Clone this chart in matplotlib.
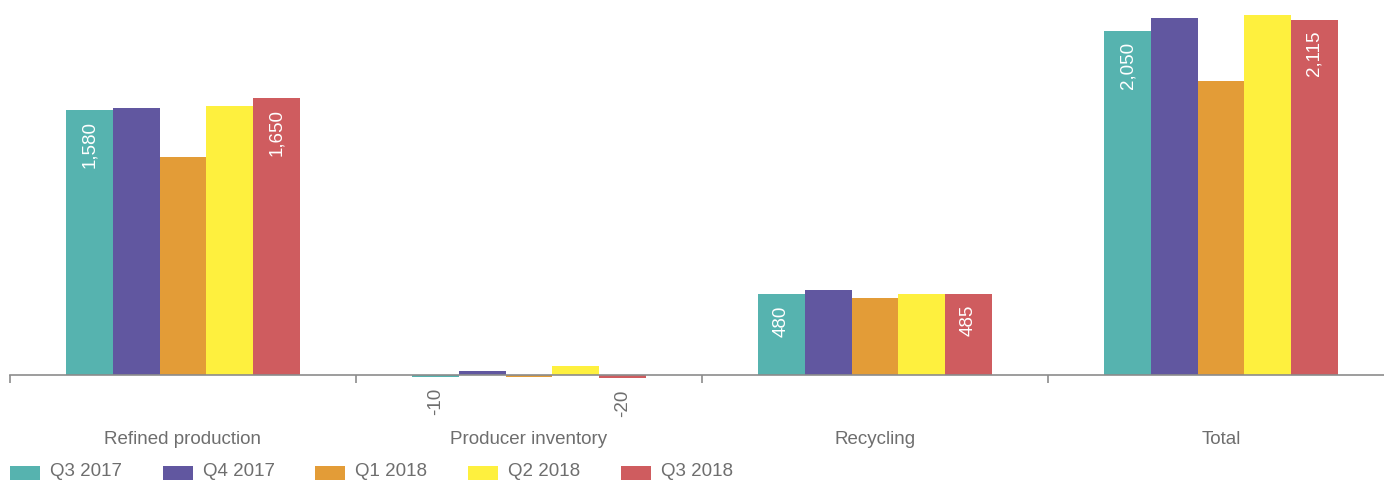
import matplotlib
matplotlib.use("Agg")
import matplotlib.pyplot as plt
from matplotlib.patches import Rectangle
import numpy as np

plt.rcParams['font.family'] = ['Liberation Sans', 'DejaVu Sans']

categories = ["Refined production", "Producer inventory", "Recycling", "Total"]
series_names = ["Q3 2017", "Q4 2017", "Q1 2018", "Q2 2018", "Q3 2018"]
q3_2017 = [1580, -10, 480, 2050]
q4_2017 = [1590, 25, 505, 2125]
q1_2018 = [1300, -10, 460, 1750]
q2_2018 = [1600, 55, 480, 2140]
q3_2018 = [1650, -20, 485, 2115]
values = [q3_2017, q4_2017, q1_2018, q2_2018, q3_2018]
labeled = [True, False, False, False, True]
colors = ["#56b3af", "#6157a0", "#e39c37", "#fef03e", "#cf5c5f"]

W, H = 1384, 480
fig = plt.figure(figsize=(W / 100, H / 100), dpi=100)

# axes: left at px 10, width 4*346 px; bottom at px 400 from top, top at 0
scale = 0.168  # px per unit
base_px = 375
ax_bottom_px = 400
ax = fig.add_axes([10 / W, (H - ax_bottom_px) / H, 4 * 346 / W, ax_bottom_px / H])
ax.set_xlim(-0.5, 3.5)
ax.set_ylim(-(ax_bottom_px - base_px) / scale, base_px / scale)

x = np.arange(len(categories))
bw = 0.135
grey_text = "#6e6e6e"
for i, (vals, col) in enumerate(zip(values, colors)):
    pos = x + (i - 2) * bw
    bars = ax.bar(pos, vals, width=bw, color=col, linewidth=0, zorder=2)
    if labeled[i]:
        for xp, v in zip(pos, vals):
            txt = f"{v:,}"
            if v >= 0:
                ax.annotate(txt, (xp, v), xytext=(0, -8), textcoords="offset points",
                            rotation=90, ha="center", va="top", color="white",
                            fontsize=13.5)
            else:
                ax.annotate(txt, (xp, v), xytext=(0, -8), textcoords="offset points",
                            rotation=90, ha="center", va="top", color=grey_text,
                            fontsize=13.5)

for s in ["top", "right", "left"]:
    ax.spines[s].set_visible(False)
ax.spines["bottom"].set_position(("data", 0))
ax.spines["bottom"].set_color("#8c8c8c")
ax.spines["bottom"].set_linewidth(1.2)
ax.spines["bottom"].set_zorder(3)
ax.set_yticks([])
ax.set_xticks(x)
ax.set_xticklabels(categories, fontsize=13.5, color=grey_text)
ax.tick_params(axis="x", which="major", length=0, pad=40)
ax.set_xticks([-0.5, 0.5, 1.5, 2.5], minor=True)
ax.tick_params(axis="x", which="minor", length=6, width=1.2, color="#8c8c8c", direction="out")
ax.patch.set_alpha(0)

# legend
for i, (name, col) in enumerate(zip(series_names, colors)):
    x0 = 10 + i * 152.7
    fig.patches.append(Rectangle((x0 / W, (H - 482) / H), 30 / W, 16 / H,
                                 transform=fig.transFigure, color=col, linewidth=0))
    fig.text((x0 + 40) / W, (H - 472) / H, name, fontsize=13.5, color=grey_text,
             ha="left", va="center")

fig.savefig("out.png", dpi=100)
